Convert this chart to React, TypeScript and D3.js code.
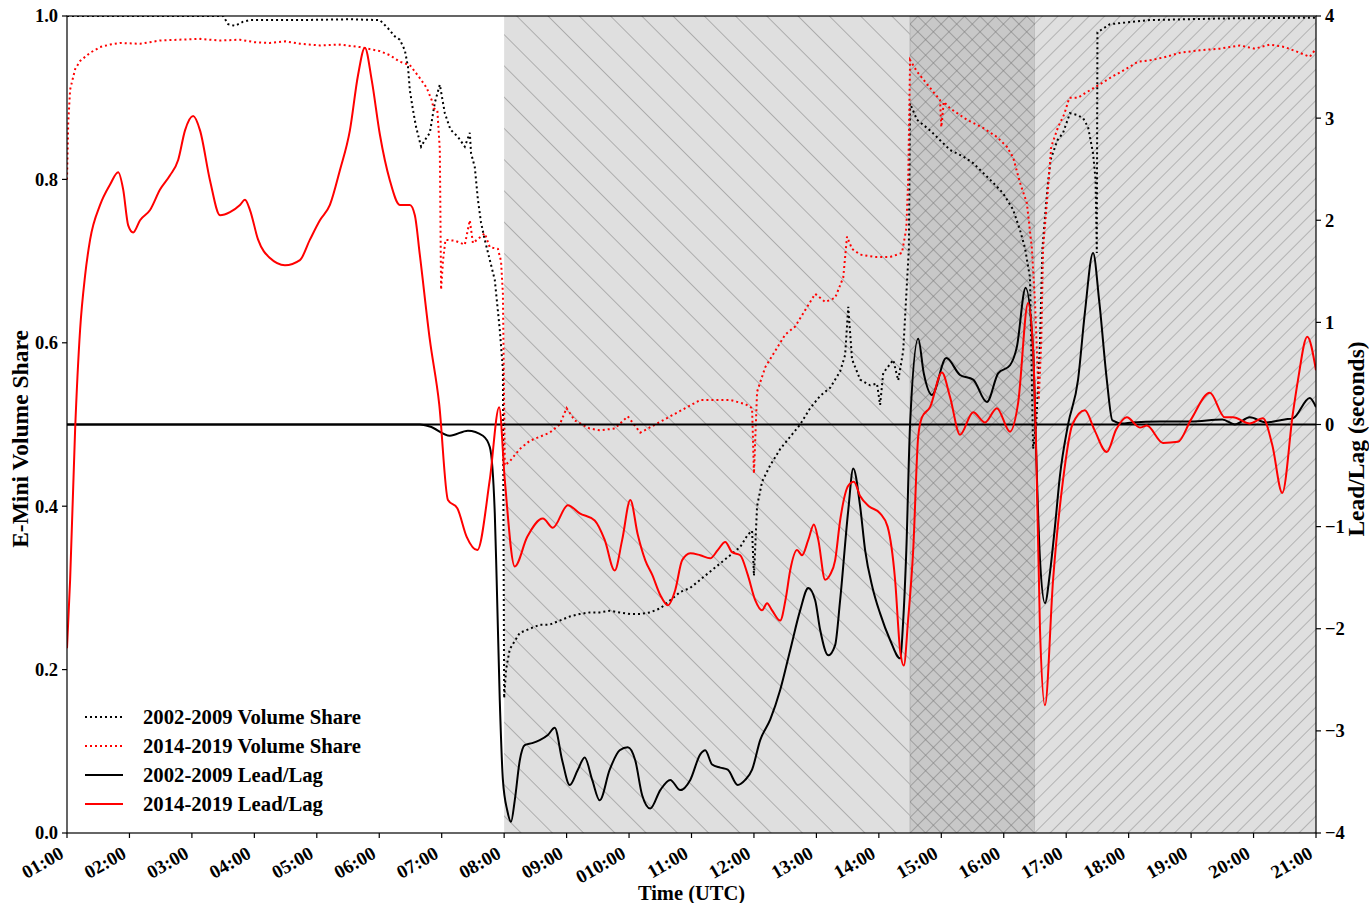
import React from 'react';
import * as d3 from 'd3';

// hour of day (UTC, decimal) / value pairs
const volShare0209: [number, number][] = [
  [1.0, 1.0], [3.5, 1.0], [3.58, 0.99], [3.69, 0.988], [3.82, 0.993], [3.93, 0.995], [4.73, 0.995],
  [5.53, 0.996], [6.01, 0.995], [6.14, 0.985], [6.25, 0.975], [6.33, 0.971], [6.41, 0.958], [6.46, 0.938],
  [6.49, 0.909], [6.54, 0.885], [6.59, 0.864], [6.67, 0.84], [6.73, 0.848], [6.81, 0.857], [6.89, 0.894],
  [6.97, 0.916], [7.05, 0.881], [7.14, 0.861], [7.26, 0.852], [7.37, 0.84], [7.45, 0.857], [7.47, 0.832],
  [7.53, 0.815], [7.58, 0.775], [7.63, 0.747], [7.69, 0.726], [7.85, 0.677], [7.93, 0.616], [7.98, 0.567],
  [8.0, 0.165], [8.03, 0.2], [8.09, 0.225], [8.25, 0.245], [8.41, 0.25], [8.57, 0.255], [8.73, 0.255],
  [8.89, 0.26], [9.05, 0.265], [9.21, 0.268], [9.37, 0.27], [9.53, 0.27], [9.69, 0.272], [9.85, 0.27],
  [10.02, 0.268], [10.18, 0.268], [10.34, 0.27], [10.5, 0.275], [10.66, 0.285], [10.82, 0.295], [10.98, 0.3],
  [11.14, 0.31], [11.3, 0.32], [11.46, 0.33], [11.62, 0.34], [11.78, 0.35], [11.9, 0.365], [11.97, 0.37],
  [12.0, 0.315], [12.05, 0.4], [12.13, 0.43], [12.26, 0.45], [12.42, 0.47], [12.58, 0.485], [12.74, 0.5],
  [12.9, 0.52], [13.06, 0.535], [13.22, 0.545], [13.38, 0.565], [13.46, 0.585], [13.51, 0.644], [13.57, 0.58],
  [13.7, 0.555], [13.86, 0.548], [13.97, 0.55], [14.02, 0.524], [14.07, 0.563], [14.23, 0.579], [14.31, 0.554],
  [14.39, 0.59], [14.45, 0.673], [14.48, 0.714], [14.5, 0.893], [14.61, 0.873], [14.82, 0.86], [14.98, 0.848],
  [15.14, 0.836], [15.35, 0.828], [15.51, 0.82], [15.67, 0.808], [15.83, 0.796], [15.99, 0.783], [16.15, 0.763],
  [16.26, 0.738], [16.34, 0.716], [16.42, 0.68], [16.47, 0.47], [16.52, 0.5], [16.58, 0.6], [16.62, 0.716],
  [16.7, 0.79], [16.75, 0.824], [16.86, 0.848], [16.95, 0.857], [17.06, 0.881], [17.17, 0.879], [17.27, 0.875],
  [17.35, 0.864], [17.43, 0.832], [17.47, 0.8], [17.49, 0.71], [17.5, 0.98], [17.7, 0.99], [18.34, 0.995],
  [19.5, 0.997], [21.0, 0.998],
];

const volShare1419: [number, number][] = [
  [1.0, 0.8], [1.02, 0.87], [1.05, 0.91], [1.13, 0.935], [1.21, 0.945], [1.37, 0.955], [1.53, 0.962],
  [1.69, 0.965], [1.85, 0.967], [2.17, 0.966], [2.49, 0.97], [2.8, 0.971], [3.13, 0.972], [3.45, 0.97],
  [3.77, 0.971], [4.0, 0.968], [4.25, 0.967], [4.5, 0.969], [4.73, 0.966], [5.05, 0.964], [5.37, 0.965],
  [5.69, 0.962], [6.01, 0.957], [6.17, 0.952], [6.33, 0.944], [6.49, 0.94], [6.57, 0.932], [6.65, 0.924],
  [6.76, 0.912], [6.84, 0.897], [6.87, 0.887], [6.93, 0.885], [6.97, 0.836], [6.99, 0.665], [7.02, 0.7],
  [7.06, 0.726], [7.21, 0.725], [7.37, 0.72], [7.45, 0.75], [7.5, 0.722], [7.69, 0.734], [7.77, 0.717],
  [7.9, 0.715], [7.95, 0.7], [7.98, 0.66], [8.01, 0.45], [8.09, 0.455], [8.25, 0.47], [8.41, 0.48],
  [8.57, 0.485], [8.73, 0.49], [8.89, 0.5], [9.0, 0.52], [9.13, 0.505], [9.37, 0.495], [9.53, 0.493],
  [9.77, 0.495], [9.98, 0.51], [10.18, 0.49], [10.42, 0.5], [10.66, 0.51], [10.9, 0.52], [11.14, 0.53],
  [11.38, 0.53], [11.62, 0.53], [11.86, 0.525], [11.97, 0.52], [12.0, 0.44], [12.05, 0.54], [12.18, 0.57],
  [12.34, 0.59], [12.5, 0.61], [12.66, 0.62], [12.82, 0.64], [12.98, 0.66], [13.14, 0.65], [13.3, 0.655],
  [13.43, 0.68], [13.49, 0.73], [13.57, 0.715], [13.7, 0.708], [13.94, 0.705], [14.18, 0.705], [14.37, 0.71],
  [14.44, 0.74], [14.47, 0.8], [14.5, 0.946], [14.61, 0.932], [14.82, 0.912], [14.98, 0.897], [15.0, 0.864],
  [15.04, 0.895], [15.14, 0.887], [15.41, 0.873], [15.67, 0.863], [15.89, 0.852], [16.05, 0.84], [16.15, 0.827],
  [16.26, 0.796], [16.37, 0.771], [16.45, 0.716], [16.5, 0.65], [16.56, 0.53], [16.6, 0.6], [16.63, 0.716],
  [16.71, 0.79], [16.76, 0.84], [16.87, 0.864], [16.97, 0.88], [17.05, 0.9], [17.19, 0.9], [17.29, 0.905],
  [17.51, 0.915], [17.72, 0.925], [17.93, 0.934], [18.15, 0.944], [18.36, 0.946], [18.6, 0.95], [18.82, 0.955],
  [19.14, 0.958], [19.46, 0.96], [19.78, 0.964], [20.02, 0.96], [20.26, 0.965], [20.5, 0.962], [20.74, 0.955],
  [20.9, 0.95], [21.0, 0.96],
];

const leadLag0209: [number, number][] = [
  [1, 0], [6.65, 0], [6.81, -0.02], [7.13, -0.11], [7.42, -0.06], [7.66, -0.11], [7.77, -0.22], [7.85, -0.87],
  [7.88, -1.52], [7.93, -2.7], [7.98, -3.48], [8.05, -3.78], [8.11, -3.89], [8.17, -3.68], [8.25, -3.29],
  [8.33, -3.14], [8.45, -3.12], [8.57, -3.09], [8.7, -3.04], [8.81, -2.97], [8.93, -3.29], [9.05, -3.53],
  [9.18, -3.38], [9.29, -3.26], [9.41, -3.48], [9.53, -3.68], [9.69, -3.38], [9.85, -3.19], [9.98, -3.16],
  [10.1, -3.29], [10.21, -3.63], [10.34, -3.76], [10.5, -3.58], [10.66, -3.48], [10.82, -3.58], [10.98, -3.48],
  [11.14, -3.23], [11.22, -3.19], [11.33, -3.33], [11.46, -3.36], [11.58, -3.38], [11.74, -3.53], [11.86, -3.48],
  [11.97, -3.38], [12.1, -3.09], [12.26, -2.89], [12.42, -2.6], [12.58, -2.21], [12.74, -1.82], [12.87, -1.6],
  [12.98, -1.72], [13.06, -2.01], [13.19, -2.26], [13.3, -2.16], [13.38, -1.72], [13.51, -0.84], [13.59, -0.43],
  [13.7, -0.8], [13.78, -1.23], [13.9, -1.6], [14.02, -1.85], [14.18, -2.11], [14.34, -2.29], [14.39, -1.92],
  [14.44, -1.23], [14.5, 0], [14.63, 0.84], [14.72, 0.5], [14.85, 0.29], [15.08, 0.65], [15.3, 0.485],
  [15.51, 0.44], [15.73, 0.22], [15.91, 0.5], [16.1, 0.58], [16.21, 0.76], [16.35, 1.34], [16.47, 0.73],
  [16.52, -0.3], [16.58, -1.32], [16.66, -1.75], [16.74, -1.45], [16.82, -1.0], [16.9, -0.5], [17.03, 0],
  [17.19, 0.44], [17.3, 1.1], [17.43, 1.68], [17.53, 1.2], [17.65, 0.44], [17.74, 0.04], [17.9, 0.01],
  [18.05, 0.02], [18.5, 0.03], [19.0, 0.03], [19.5, 0.05], [19.7, 0.0], [19.94, 0.07], [20.2, 0.02],
  [20.5, 0.05], [20.63, 0.06], [20.9, 0.26], [21, 0.17],
];

const leadLag1419: [number, number][] = [
  [1.0, -2.19], [1.05, -1.52], [1.13, -0.05], [1.21, 0.93], [1.29, 1.46], [1.37, 1.81], [1.53, 2.15],
  [1.69, 2.35], [1.82, 2.47], [1.9, 2.3], [1.98, 1.95], [2.06, 1.88], [2.17, 2.0], [2.33, 2.1], [2.49, 2.3],
  [2.65, 2.44], [2.78, 2.59], [2.89, 2.88], [3.02, 3.02], [3.13, 2.88], [3.29, 2.39], [3.45, 2.05], [3.61, 2.08],
  [3.77, 2.15], [3.85, 2.2], [3.93, 2.1], [4.06, 1.81], [4.25, 1.63], [4.49, 1.56], [4.73, 1.61], [4.89, 1.81],
  [5.05, 2.0], [5.21, 2.15], [5.37, 2.49], [5.53, 2.88], [5.66, 3.42], [5.77, 3.69], [5.88, 3.37], [6.01, 2.84],
  [6.17, 2.39], [6.33, 2.15], [6.49, 2.15], [6.57, 2.05], [6.65, 1.66], [6.81, 0.83], [6.96, 0.2], [7.1, -0.74],
  [7.25, -0.82], [7.4, -1.1], [7.57, -1.23], [7.77, -0.54], [7.92, 0.17], [8.01, -0.54], [8.17, -1.39],
  [8.37, -1.1], [8.62, -0.92], [8.78, -1.01], [9.02, -0.79], [9.21, -0.87], [9.45, -0.94], [9.61, -1.13],
  [9.77, -1.43], [9.89, -1.13], [10.02, -0.74], [10.14, -1.08], [10.26, -1.33], [10.37, -1.47], [10.5, -1.67],
  [10.62, -1.77], [10.74, -1.62], [10.85, -1.33], [10.98, -1.26], [11.14, -1.28], [11.3, -1.31], [11.42, -1.23],
  [11.54, -1.15], [11.65, -1.25], [11.78, -1.28], [11.9, -1.47], [12.02, -1.72], [12.13, -1.82], [12.21, -1.75],
  [12.29, -1.82], [12.42, -1.92], [12.51, -1.7], [12.58, -1.43], [12.69, -1.23], [12.77, -1.28], [12.87, -1.13],
  [12.96, -0.98], [13.03, -1.13], [13.14, -1.52], [13.22, -1.47], [13.3, -1.33], [13.38, -0.94], [13.51, -0.6],
  [13.6, -0.56], [13.7, -0.7], [13.84, -0.8], [14.02, -0.87], [14.14, -1.0], [14.26, -1.52], [14.34, -2.21],
  [14.4, -2.36], [14.47, -1.9], [14.55, -1.23], [14.63, -0.12], [14.69, 0.07], [14.82, 0.17], [15.01, 0.51],
  [15.14, 0.27], [15.3, -0.1], [15.51, 0.12], [15.7, 0.02], [15.89, 0.16], [16.1, -0.07], [16.23, 0.21],
  [16.39, 1.19], [16.47, 0.73], [16.52, -0.25], [16.58, -2.0], [16.66, -2.75], [16.79, -1.52], [16.95, -0.54],
  [17.1, 0.0], [17.3, 0.14], [17.45, -0.05], [17.65, -0.27], [17.8, -0.05], [17.97, 0.07], [18.18, -0.03],
  [18.29, -0.01], [18.55, -0.18], [18.79, -0.17], [19.0, 0.05], [19.3, 0.31], [19.54, 0.07], [19.67, 0.07],
  [19.94, 0.01], [20.15, 0.06], [20.3, -0.2], [20.46, -0.67], [20.63, 0.11], [20.71, 0.43], [20.86, 0.86],
  [21.0, 0.53],
];

const hourTicks = d3.range(1, 22);
const hourLabels = [
  '01:00', '02:00', '03:00', '04:00', '05:00', '06:00', '07:00', '08:00', '09:00', '010:00', '11:00',
  '12:00', '13:00', '14:00', '15:00', '16:00', '17:00', '18:00', '19:00', '20:00', '21:00',
];
const leftTicks = [0, 0.2, 0.4, 0.6, 0.8, 1.0];
const rightTicks = [-4, -3, -2, -1, 0, 1, 2, 3, 4];

// shaded sessions: [start hour, end hour]
const sessionA: [number, number] = [8, 14.5];
const sessionB: [number, number] = [14.5, 16.5];
const sessionC: [number, number] = [16.5, 21];

const legendItems = [
  { label: '2002-2009 Volume Share', color: '#000', dotted: true },
  { label: '2014-2019 Volume Share', color: '#f00', dotted: true },
  { label: '2002-2009 Lead/Lag', color: '#000', dotted: false },
  { label: '2014-2019 Lead/Lag', color: '#f00', dotted: false },
];

const W = 1369;
const H = 903;
const m = { left: 67, right: 1316, top: 16, bottom: 833 };
const FONT = '"Liberation Serif", "Times New Roman", serif';

export default function App() {
  const x = d3.scaleLinear().domain([1, 21]).range([m.left, m.right]);
  const yL = d3.scaleLinear().domain([0, 1]).range([m.bottom, m.top]);
  const yR = d3.scaleLinear().domain([-4, 4]).range([m.bottom, m.top]);

  const volLine = d3.line<[number, number]>().x(d => x(d[0])).y(d => yL(d[1]));
  const llLine = d3.line<[number, number]>()
    .x(d => x(d[0]))
    .y(d => yR(d[1]))
    .curve(d3.curveMonotoneX);

  const fmtL = d3.format('.1f');
  const fmtR = d3.format('d');
  const pw = m.right - m.left;
  const ph = m.bottom - m.top;

  return (
    <svg width={W} height={H} style={{ position: 'absolute', left: 0, top: 0, background: '#fff' }}
      fontFamily={FONT} fontWeight="bold">
      <defs>
        <clipPath id="plot">
          <rect x={m.left} y={m.top} width={pw} height={ph} />
        </clipPath>
        <pattern id="hatchBack" patternUnits="userSpaceOnUse" width={22.1} height={22.1}
          patternTransform="rotate(-45)">
          <line x1={0} y1={-5} x2={0} y2={30} stroke="#858585" strokeWidth={1.1} />
        </pattern>
        <pattern id="hatchFwd" patternUnits="userSpaceOnUse" width={11} height={11}
          patternTransform="rotate(45)">
          <line x1={0} y1={-5} x2={0} y2={20} stroke="#8c8c8c" strokeWidth={1.1} />
        </pattern>
        <pattern id="hatchCross" patternUnits="userSpaceOnUse" width={11} height={11}
          patternTransform="rotate(45)">
          <line x1={0} y1={-5} x2={0} y2={20} stroke="#7a7a7a" strokeWidth={1.1} />
          <line x1={-5} y1={0} x2={20} y2={0} stroke="#7a7a7a" strokeWidth={1.1} />
        </pattern>
      </defs>

      {/* session shading */}
      <g clipPath="url(#plot)">
        <rect x={x(sessionA[0])} y={m.top} width={x(sessionA[1]) - x(sessionA[0])} height={ph} fill="#dfdfdf" />
        <rect x={x(sessionA[0])} y={m.top} width={x(sessionA[1]) - x(sessionA[0])} height={ph} fill="url(#hatchBack)" />
        <rect x={x(sessionB[0])} y={m.top} width={x(sessionB[1]) - x(sessionB[0])} height={ph} fill="#c8c8c8"
          stroke="#b5b5b5" strokeWidth={1} />
        <rect x={x(sessionB[0])} y={m.top} width={x(sessionB[1]) - x(sessionB[0])} height={ph} fill="url(#hatchCross)" />
        <rect x={x(sessionC[0])} y={m.top} width={x(sessionC[1]) - x(sessionC[0])} height={ph} fill="#dfdfdf" />
        <rect x={x(sessionC[0])} y={m.top} width={x(sessionC[1]) - x(sessionC[0])} height={ph} fill="url(#hatchFwd)" />
      </g>

      {/* series */}
      <g clipPath="url(#plot)" fill="none">
        <path d={volLine(volShare0209) ?? ''} stroke="#000" strokeWidth={2} strokeDasharray="2,3" />
        <path d={volLine(volShare1419) ?? ''} stroke="#f00" strokeWidth={2} strokeDasharray="2,3" />
        <line x1={m.left} x2={m.right} y1={yR(0)} y2={yR(0)} stroke="#000" strokeWidth={2} />
        <path d={llLine(leadLag0209) ?? ''} stroke="#000" strokeWidth={2} />
        <path d={llLine(leadLag1419) ?? ''} stroke="#f00" strokeWidth={2} />
      </g>

      {/* frame */}
      <rect x={m.left} y={m.top} width={pw} height={ph} fill="none" stroke="#000" strokeWidth={1.2} />

      {/* x axis */}
      <g fontSize={19}>
        {hourTicks.map((h, i) => (
          <g key={h} transform={`translate(${x(h)},${m.bottom})`}>
            <line y2={5} stroke="#000" strokeWidth={1.2} />
            <text transform="translate(-2,24) rotate(-30)" textAnchor="end">{hourLabels[i]}</text>
          </g>
        ))}
      </g>
      <text x={(m.left + m.right) / 2} y={900} textAnchor="middle" fontSize={20.5}>Time (UTC)</text>

      {/* left axis */}
      <g fontSize={18.5}>
        {leftTicks.map(v => (
          <g key={v} transform={`translate(${m.left},${yL(v)})`}>
            <line x2={-5} stroke="#000" strokeWidth={1.2} />
            <text x={-9} dy="0.35em" textAnchor="end">{fmtL(v)}</text>
          </g>
        ))}
      </g>
      <text transform="translate(28,439) rotate(-90)" textAnchor="middle" fontSize={23.5}>
        E-Mini Volume Share
      </text>

      {/* right axis */}
      <g fontSize={18.5}>
        {rightTicks.map(v => (
          <g key={v} transform={`translate(${m.right},${yR(v)})`}>
            <line x2={5} stroke="#000" strokeWidth={1.2} />
            <text x={9} dy="0.35em">{fmtR(v)}</text>
          </g>
        ))}
      </g>
      <text transform="translate(1364,439) rotate(-90)" textAnchor="middle" fontSize={23.5}>
        Lead/Lag (seconds)
      </text>

      {/* legend */}
      <g fontSize={20.7}>
        {legendItems.map((d, i) => (
          <g key={d.label} transform={`translate(85,${717 + i * 29})`}>
            <line x1={0} x2={38} stroke={d.color} strokeWidth={2} strokeDasharray={d.dotted ? '2,3' : undefined} />
            <text x={58} dy="0.35em">{d.label}</text>
          </g>
        ))}
      </g>
    </svg>
  );
}
